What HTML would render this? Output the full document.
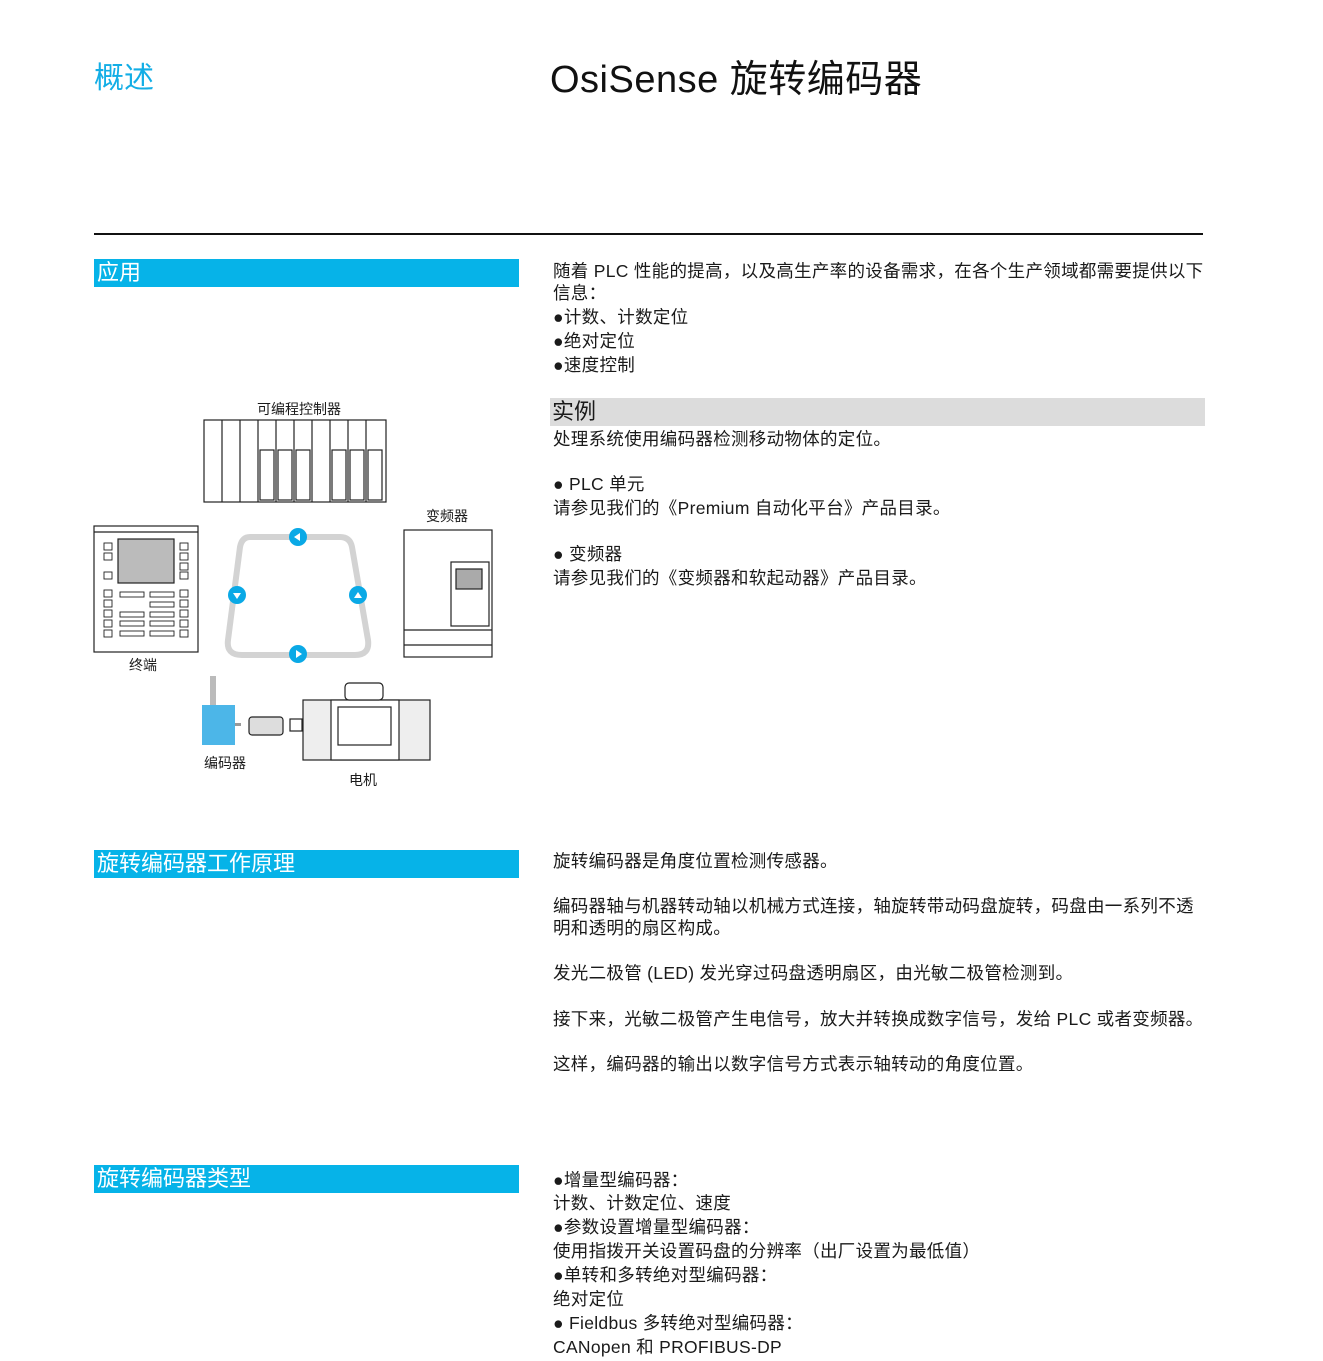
<!DOCTYPE html>
<html><head><meta charset="utf-8"><style>
body{margin:0;background:#fff;width:1323px;height:1361px;position:relative;overflow:hidden;font-family:"Liberation Sans","Noto Sans CJK SC",sans-serif;color:#1a1a1a}
.a{position:absolute;white-space:nowrap}
.t{position:absolute;left:553px;font-size:17.5px;letter-spacing:0.3px;line-height:22px;white-space:nowrap;margin-top:1px}
.bar{position:absolute;left:94px;width:425px;height:28px;background:#06b3e8;color:#fff;font-size:22px;line-height:28px;padding-left:3px;box-sizing:border-box}
.lbl{position:absolute;font-size:14px;white-space:nowrap;transform:translateX(-50%)}
</style></head><body>
<div class="a" style="left:94px;top:53px;font-size:30px;color:#13aee6">概述</div>
<div class="a" style="left:550px;top:48px;font-size:38px;letter-spacing:0.5px;color:#111">OsiSense 旋转编码器</div>
<div class="a" style="left:94px;top:233px;width:1109px;height:2px;background:#111"></div>

<div class="bar" style="top:259px">应用</div>
<div class="t" style="top:259px">随着 PLC 性能的提高，以及高生产率的设备需求，在各个生产领域都需要提供以下</div>
<div class="t" style="top:281px">信息：</div>
<div class="t" style="top:305px">●计数、计数定位</div>
<div class="t" style="top:329px">●绝对定位</div>
<div class="t" style="top:353px">●速度控制</div>
<div class="a" style="left:550px;top:398px;width:653px;height:28px;background:#dcdcdc;font-size:22px;line-height:28px;padding-left:2px">实例</div>
<div class="t" style="top:427px">处理系统使用编码器检测移动物体的定位。</div>
<div class="t" style="top:472px">● PLC 单元</div>
<div class="t" style="top:496px">请参见我们的《Premium 自动化平台》产品目录。</div>
<div class="t" style="top:542px">● 变频器</div>
<div class="t" style="top:566px">请参见我们的《变频器和软起动器》产品目录。</div>

<svg class="a" style="left:0;top:0" width="520" height="800" viewBox="0 0 520 800">
<g fill="#fff" stroke="#222" stroke-width="1.2">
<rect x="204" y="420" width="182" height="82"/>
<line x1="222" y1="420" x2="222" y2="502"/><line x1="240" y1="420" x2="240" y2="502"/>
<line x1="258" y1="420" x2="258" y2="502"/><line x1="276" y1="420" x2="276" y2="502"/>
<line x1="294" y1="420" x2="294" y2="502"/><line x1="312" y1="420" x2="312" y2="502"/>
<line x1="330" y1="420" x2="330" y2="502"/><line x1="348" y1="420" x2="348" y2="502"/>
<line x1="366" y1="420" x2="366" y2="502"/>
<rect x="260" y="450" width="14" height="50"/><rect x="278" y="450" width="14" height="50"/><rect x="296" y="450" width="14" height="50"/>
<rect x="332" y="450" width="14" height="50"/><rect x="350" y="450" width="14" height="50"/><rect x="368" y="450" width="14" height="50"/>
<rect x="94" y="526" width="104" height="126"/>
<line x1="94" y1="532" x2="198" y2="532"/>
<rect x="118" y="539" width="56" height="44" fill="#bbb"/>
<g stroke-width="0.9">
<rect x="104" y="543" width="8" height="7"/><rect x="104" y="553" width="8" height="7"/><rect x="104" y="572" width="8" height="7"/>
<rect x="104" y="590" width="8" height="7"/><rect x="104" y="600" width="8" height="7"/><rect x="104" y="610" width="8" height="7"/><rect x="104" y="620" width="8" height="7"/><rect x="104" y="630" width="8" height="7"/>
<rect x="180" y="543" width="8" height="7"/><rect x="180" y="553" width="8" height="7"/><rect x="180" y="563" width="8" height="7"/><rect x="180" y="572" width="8" height="7"/>
<rect x="180" y="590" width="8" height="7"/><rect x="180" y="600" width="8" height="7"/><rect x="180" y="610" width="8" height="7"/><rect x="180" y="620" width="8" height="7"/><rect x="180" y="630" width="8" height="7"/>
<rect x="120" y="592" width="24" height="5"/><rect x="150" y="592" width="24" height="5"/><rect x="150" y="602" width="24" height="5"/>
<rect x="120" y="612" width="24" height="5"/><rect x="150" y="612" width="24" height="5"/><rect x="120" y="621" width="24" height="5"/><rect x="150" y="621" width="24" height="5"/><rect x="120" y="631" width="24" height="5"/><rect x="150" y="631" width="24" height="5"/>
</g>
<rect x="404" y="530" width="88" height="127"/>
<line x1="404" y1="630" x2="492" y2="630"/><line x1="404" y1="645" x2="492" y2="645"/>
<rect x="451" y="562" width="38" height="64"/><rect x="456" y="569" width="26" height="20" fill="#aaa"/>
<rect x="303" y="700" width="127" height="60" fill="#eee"/>
<rect x="331" y="700" width="68" height="60"/><rect x="338" y="707" width="53" height="38"/>
<rect x="345" y="683" width="38" height="17" rx="4"/>
<rect x="290" y="719" width="12" height="12"/>
<rect x="249" y="717" width="34" height="18" rx="3" fill="#ddd"/>
</g>
<rect x="210" y="676" width="6" height="30" fill="#bbb"/>
<rect x="202" y="705" width="33" height="40" fill="#4cb6e8"/>
<rect x="235" y="723" width="6" height="3" fill="#999"/>
<path d="M250 537 H340 Q350 537 352 547 L368 640 Q370 655 355 655 H242 Q226 655 228 640 L240 547 Q242 537 250 537 Z" fill="none" stroke="#d3d3d3" stroke-width="6"/>
<g fill="#0aa9e6"><circle cx="298" cy="537" r="9"/><circle cx="237" cy="595" r="9"/><circle cx="358" cy="595" r="9"/><circle cx="298" cy="654" r="9"/></g>
<g fill="#fff"><path d="M294 537 l6 -4 v8z"/><path d="M233 593 h8 l-4 6z"/><path d="M354 598 h8 l-4 -6z"/><path d="M302 654 l-6 -4 v8z"/></g>
</svg>
<div class="lbl" style="left:299px;top:399px">可编程控制器</div>
<div class="lbl" style="left:447px;top:506px">变频器</div>
<div class="lbl" style="left:143px;top:655px">终端</div>
<div class="lbl" style="left:225px;top:753px">编码器</div>
<div class="lbl" style="left:363px;top:770px">电机</div>

<div class="bar" style="top:850px">旋转编码器工作原理</div>
<div class="t" style="top:849px">旋转编码器是角度位置检测传感器。</div>
<div class="t" style="top:894px">编码器轴与机器转动轴以机械方式连接，轴旋转带动码盘旋转，码盘由一系列不透</div>
<div class="t" style="top:916px">明和透明的扇区构成。</div>
<div class="t" style="top:961px">发光二极管 (LED) 发光穿过码盘透明扇区，由光敏二极管检测到。</div>
<div class="t" style="top:1007px">接下来，光敏二极管产生电信号，放大并转换成数字信号，发给 PLC 或者变频器。</div>
<div class="t" style="top:1052px">这样，编码器的输出以数字信号方式表示轴转动的角度位置。</div>

<div class="bar" style="top:1165px">旋转编码器类型</div>
<div class="t" style="top:1168px">●增量型编码器：</div>
<div class="t" style="top:1191px">计数、计数定位、速度</div>
<div class="t" style="top:1215px">●参数设置增量型编码器：</div>
<div class="t" style="top:1239px">使用指拨开关设置码盘的分辨率（出厂设置为最低值）</div>
<div class="t" style="top:1263px">●单转和多转绝对型编码器：</div>
<div class="t" style="top:1287px">绝对定位</div>
<div class="t" style="top:1311px">● Fieldbus 多转绝对型编码器：</div>
<div class="t" style="top:1335px">CANopen 和 PROFIBUS-DP</div>
</body></html>
